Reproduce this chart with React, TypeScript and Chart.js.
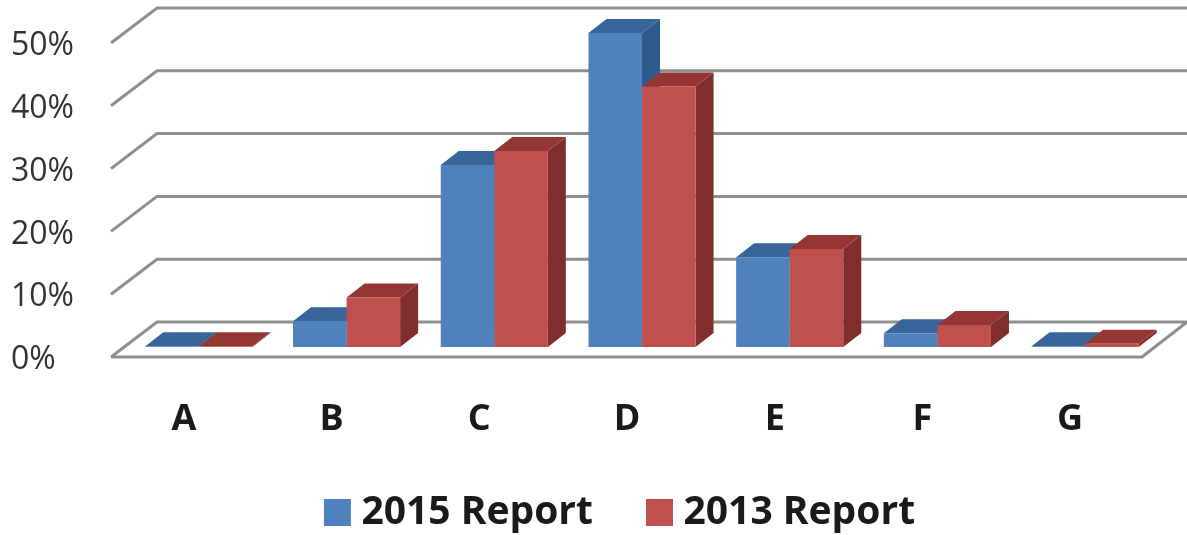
import React, { useEffect, useRef } from "react";
import { Chart, registerables } from "chart.js";

Chart.register(...registerables);

const categories = ["A", "B", "C", "D", "E", "F", "G"];
const report2015 = [0.1, 4.1, 29, 50, 14.3, 2.2, 0.1];
const report2013 = [0.1, 7.9, 31.2, 41.5, 15.6, 3.5, 0.5];
const seriesNames = ["2015 Report", "2013 Report"];
const frontColors = ["#4f81bd", "#c0504d"];
const topColors = ["#38659a", "#943634"];
const sideColors = ["#2f5a8e", "#7f2e2c"];

const depthX = 18;
const depthY = 14;
const gridColor = "#8f8f8f";

const poly = (ctx: CanvasRenderingContext2D, pts: number[][], fill: string) => {
  ctx.beginPath();
  pts.forEach(([x, y], i) => (i ? ctx.lineTo(x, y) : ctx.moveTo(x, y)));
  ctx.closePath();
  ctx.fillStyle = fill;
  ctx.fill();
};

const threeD = {
  id: "threeD",
  beforeDatasetsDraw(chart: any) {
    const { ctx, chartArea: area, scales } = chart;
    const y = scales.y;
    const fx = area.left - 14;
    const bx = area.left + 32;
    ctx.save();
    ctx.strokeStyle = gridColor;
    ctx.lineWidth = 3;
    y.ticks.forEach((t: any) => {
      const p = y.getPixelForValue(t.value);
      ctx.beginPath();
      ctx.moveTo(fx, p + 10);
      ctx.lineTo(bx, p - 25);
      ctx.lineTo(chart.width, p - 25);
      ctx.stroke();
      if (t.value === 0) {
        ctx.beginPath();
        ctx.moveTo(fx, p + 10);
        ctx.lineTo(area.right - 17, p + 10);
        ctx.lineTo(area.right + 28, p - 25);
        ctx.stroke();
      }
    });
    const metas = [chart.getDatasetMeta(0), chart.getDatasetMeta(1)];
    categories.forEach((_, i) => {
      metas.forEach((meta, d) => {
        const el = meta.data[i].getProps(["x", "y", "base", "width"], true);
        const l = el.x - el.width / 2;
        const r = el.x + el.width / 2;
        poly(ctx, [[r, el.y], [r + depthX, el.y - depthY], [r + depthX, el.base - depthY], [r, el.base]], sideColors[d]);
        poly(ctx, [[l, el.y], [l + depthX, el.y - depthY], [r + depthX, el.y - depthY], [r, el.y]], topColors[d]);
      });
    });
    ctx.restore();
  },
};

export default function App() {
  const ref = useRef<HTMLCanvasElement>(null);
  useEffect(() => {
    const chart = new Chart(ref.current!, {
      type: "bar",
      data: {
        labels: categories,
        datasets: [report2015, report2013].map((data, i) => ({
          label: seriesNames[i],
          data,
          backgroundColor: frontColors[i],
          borderWidth: 0,
          categoryPercentage: 0.725,
          barPercentage: 1,
        })),
      },
      options: {
        responsive: false,
        animation: false,
        layout: { padding: { left: 89, right: 28, top: 33, bottom: -7 } },
        scales: {
          x: {
            grid: { display: false },
            border: { display: false },
            ticks: { color: "#1a1a1a", font: { family: "Open Sans", size: 36, weight: "bold" }, padding: 43, labelOffset: -15 },
            afterFit: (s: any) => { s.height = 84; },
          },
          y: {
            min: 0,
            max: 50,
            grid: { display: false },
            border: { display: false },
            ticks: {
              stepSize: 10,
              color: "#333333",
              font: { family: "Open Sans", size: 32 },
              mirror: true,
              padding: -114,
              labelOffset: 13,
              callback: (v: any) => v + "%",
            },
            afterFit: (s: any) => { s.width = 36; s.paddingTop = 0; s.paddingBottom = 0; },
          },
        },
        plugins: {
          tooltip: { enabled: false },
          legend: {
            position: "bottom",
            labels: {
              color: "#1a1a1a",
              font: { family: "Open Sans", size: 39, weight: "bold" },
              boxWidth: 9,
              boxHeight: 9,
              padding: 62,
              generateLabels: (c: any) =>
                Chart.defaults.plugins.legend.labels.generateLabels(c).map((it: any, i: number) => ({
                  ...it,
                  lineWidth: 18,
                  strokeStyle: frontColors[i],
                  fillStyle: frontColors[i],
                })),
            },
          },
        },
      },
      plugins: [threeD],
    } as any);
    return () => chart.destroy();
  }, []);
  return (
    <div style={{ position: "fixed", left: 0, top: 0, width: 1187, height: 535, background: "#fff" }}>
      <canvas ref={ref} width={1187} height={535} style={{ display: "block", filter: "blur(0.6px)" }} />
    </div>
  );
}
